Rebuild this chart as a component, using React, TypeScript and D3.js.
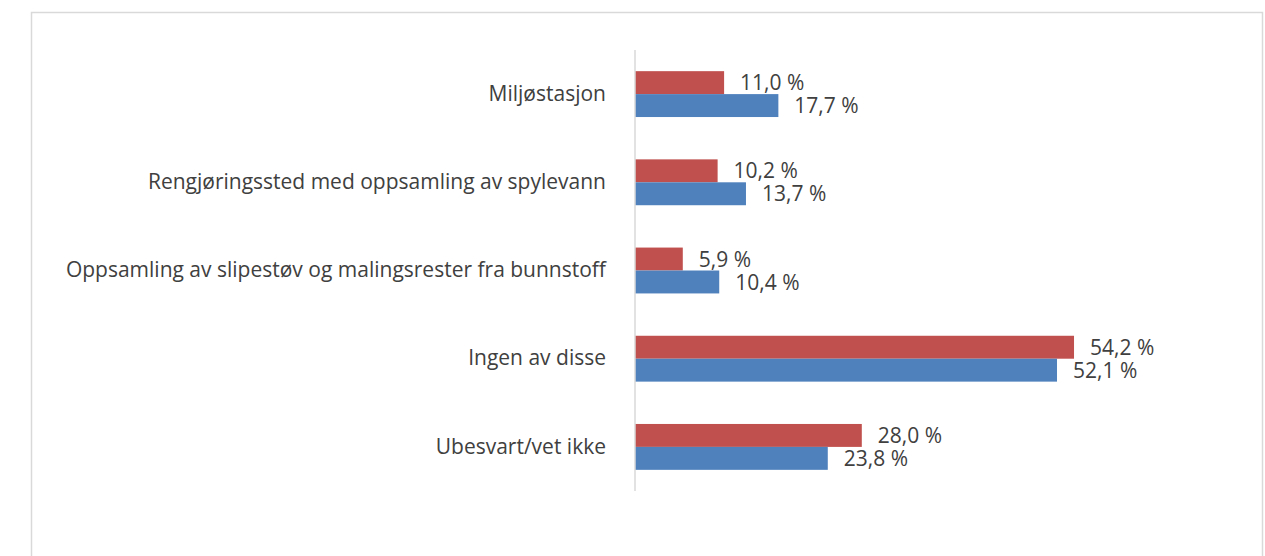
import { useEffect, useRef } from "react";
import * as d3 from "d3";

const categories = [
  "Miljøstasjon",
  "Rengjøringssted med oppsamling av spylevann",
  "Oppsamling av slipestøv og malingsrester fra bunnstoff",
  "Ingen av disse",
  "Ubesvart/vet ikke",
];
const redValues = [11.0, 10.2, 5.9, 54.2, 28.0];
const blueValues = [17.7, 13.7, 10.4, 52.1, 23.8];
const seriesKeys = ["red", "blue"];
const colors = ["#C0504D", "#4F81BD"];

export default function App() {
  const ref = useRef<SVGSVGElement | null>(null);

  useEffect(() => {
    const width = 1265;
    const height = 556;
    const svg = d3.select(ref.current);
    svg.selectAll("*").remove();

    // chart frame
    svg.append("rect")
      .attr("x", 31.5)
      .attr("y", 12.5)
      .attr("width", 1231)
      .attr("height", 560)
      .attr("fill", "#fff")
      .attr("stroke", "#d9d9d9")
      .attr("stroke-width", 1.5);

    const x = d3.scaleLinear().domain([0, 60]).range([635, 635 + 60 * 8.1]);
    const y = d3.scaleBand<string>()
      .domain(categories)
      .range([50, 491])
      .paddingInner(0.48)
      .paddingOuter(0.24);
    const inner = d3.scaleBand<string>()
      .domain(seriesKeys)
      .range([0, y.bandwidth()]);

    const font = "'Open Sans', sans-serif";
    const fontSize = 21;

    const rows = categories.map((c, i) => ({ c, vals: [redValues[i], blueValues[i]] }));

    const g = svg.append("g");
    rows.forEach((r) => {
      r.vals.forEach((v, k) => {
        const yy = (y(r.c) ?? 0) + (inner(seriesKeys[k]) ?? 0);
        g.append("rect")
          .attr("x", x(0))
          .attr("y", yy)
          .attr("width", x(v) - x(0))
          .attr("height", inner.bandwidth())
          .attr("fill", colors[k]);
        g.append("text")
          .attr("x", x(v) + 16)
          .attr("y", yy + inner.bandwidth() / 2 + 2)
          .attr("dominant-baseline", "middle")
          .attr("font-family", font)
          .attr("font-size", fontSize)
          .attr("fill", "#404040")
          .text(d3.format(".1f")(v).replace(".", ",") + " %");
      });
      g.append("text")
        .attr("x", 606)
        .attr("y", (y(r.c) ?? 0) + y.bandwidth() / 2 + 1)
        .attr("text-anchor", "end")
        .attr("dominant-baseline", "middle")
        .attr("font-family", font)
        .attr("font-size", fontSize)
        .attr("fill", "#404040")
        .text(r.c);
    });

    // category axis line
    svg.append("line")
      .attr("x1", x(0))
      .attr("x2", x(0))
      .attr("y1", 50)
      .attr("y2", 491)
      .attr("stroke", "#d9d9d9")
      .attr("stroke-width", 1.5);

    svg.attr("width", width).attr("height", height);
  }, []);

  return (
    <div style={{ position: "fixed", left: 0, top: 0 }}>
      <svg ref={ref} style={{ display: "block" }} />
    </div>
  );
}
